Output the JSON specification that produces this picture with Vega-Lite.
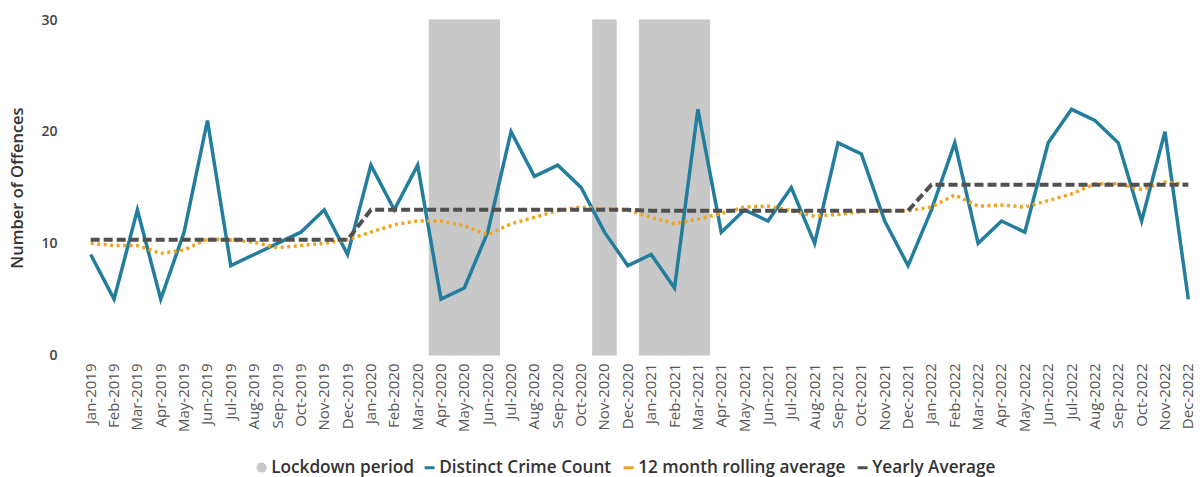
{
  "$schema": "https://vega.github.io/schema/vega-lite/v6.json",
  "width": 1121,
  "height": 335,
  "autosize": {"type": "none"},
  "padding": {"left": 79, "top": 20, "right": 2, "bottom": 122},
  "background": "white",
  "config": {
    "view": {"stroke": null},
    "font": "Open Sans"
  },
  "data": {
    "values": [
      {"month": "Jan-2019", "crimes": 9, "rolling": 10.0, "yearly": 10.33, "lockdown": false},
      {"month": "Feb-2019", "crimes": 5, "rolling": 9.8, "yearly": 10.33, "lockdown": false},
      {"month": "Mar-2019", "crimes": 13, "rolling": 9.8, "yearly": 10.33, "lockdown": false},
      {"month": "Apr-2019", "crimes": 5, "rolling": 9.1, "yearly": 10.33, "lockdown": false},
      {"month": "May-2019", "crimes": 11, "rolling": 9.4, "yearly": 10.33, "lockdown": false},
      {"month": "Jun-2019", "crimes": 21, "rolling": 10.4, "yearly": 10.33, "lockdown": false},
      {"month": "Jul-2019", "crimes": 8, "rolling": 10.3, "yearly": 10.33, "lockdown": false},
      {"month": "Aug-2019", "crimes": 9, "rolling": 10.1, "yearly": 10.33, "lockdown": false},
      {"month": "Sep-2019", "crimes": 10, "rolling": 9.6, "yearly": 10.33, "lockdown": false},
      {"month": "Oct-2019", "crimes": 11, "rolling": 9.8, "yearly": 10.33, "lockdown": false},
      {"month": "Nov-2019", "crimes": 13, "rolling": 10.0, "yearly": 10.33, "lockdown": false},
      {"month": "Dec-2019", "crimes": 9, "rolling": 10.33, "yearly": 10.33, "lockdown": false},
      {"month": "Jan-2020", "crimes": 17, "rolling": 11.0, "yearly": 13.0, "lockdown": false},
      {"month": "Feb-2020", "crimes": 13, "rolling": 11.67, "yearly": 13.0, "lockdown": false},
      {"month": "Mar-2020", "crimes": 17, "rolling": 12.0, "yearly": 13.0, "lockdown": false},
      {"month": "Apr-2020", "crimes": 5, "rolling": 12.0, "yearly": 13.0, "lockdown": true},
      {"month": "May-2020", "crimes": 6, "rolling": 11.58, "yearly": 13.0, "lockdown": true},
      {"month": "Jun-2020", "crimes": 11, "rolling": 10.75, "yearly": 13.0, "lockdown": true},
      {"month": "Jul-2020", "crimes": 20, "rolling": 11.75, "yearly": 13.0, "lockdown": false},
      {"month": "Aug-2020", "crimes": 16, "rolling": 12.33, "yearly": 13.0, "lockdown": false},
      {"month": "Sep-2020", "crimes": 17, "rolling": 12.92, "yearly": 13.0, "lockdown": false},
      {"month": "Oct-2020", "crimes": 15, "rolling": 13.25, "yearly": 13.0, "lockdown": false},
      {"month": "Nov-2020", "crimes": 11, "rolling": 13.08, "yearly": 13.0, "lockdown": true},
      {"month": "Dec-2020", "crimes": 8, "rolling": 13.0, "yearly": 13.0, "lockdown": false},
      {"month": "Jan-2021", "crimes": 9, "rolling": 12.33, "yearly": 12.92, "lockdown": true},
      {"month": "Feb-2021", "crimes": 6, "rolling": 11.75, "yearly": 12.92, "lockdown": true},
      {"month": "Mar-2021", "crimes": 22, "rolling": 12.17, "yearly": 12.92, "lockdown": true},
      {"month": "Apr-2021", "crimes": 11, "rolling": 12.67, "yearly": 12.92, "lockdown": false},
      {"month": "May-2021", "crimes": 13, "rolling": 13.25, "yearly": 12.92, "lockdown": false},
      {"month": "Jun-2021", "crimes": 12, "rolling": 13.33, "yearly": 12.92, "lockdown": false},
      {"month": "Jul-2021", "crimes": 15, "rolling": 12.92, "yearly": 12.92, "lockdown": false},
      {"month": "Aug-2021", "crimes": 10, "rolling": 12.42, "yearly": 12.92, "lockdown": false},
      {"month": "Sep-2021", "crimes": 19, "rolling": 12.58, "yearly": 12.92, "lockdown": false},
      {"month": "Oct-2021", "crimes": 18, "rolling": 12.83, "yearly": 12.92, "lockdown": false},
      {"month": "Nov-2021", "crimes": 12, "rolling": 12.92, "yearly": 12.92, "lockdown": false},
      {"month": "Dec-2021", "crimes": 8, "rolling": 12.92, "yearly": 12.92, "lockdown": false},
      {"month": "Jan-2022", "crimes": 13, "rolling": 13.25, "yearly": 15.25, "lockdown": false},
      {"month": "Feb-2022", "crimes": 19, "rolling": 14.33, "yearly": 15.25, "lockdown": false},
      {"month": "Mar-2022", "crimes": 10, "rolling": 13.33, "yearly": 15.25, "lockdown": false},
      {"month": "Apr-2022", "crimes": 12, "rolling": 13.42, "yearly": 15.25, "lockdown": false},
      {"month": "May-2022", "crimes": 11, "rolling": 13.25, "yearly": 15.25, "lockdown": false},
      {"month": "Jun-2022", "crimes": 19, "rolling": 13.83, "yearly": 15.25, "lockdown": false},
      {"month": "Jul-2022", "crimes": 22, "rolling": 14.42, "yearly": 15.25, "lockdown": false},
      {"month": "Aug-2022", "crimes": 21, "rolling": 15.33, "yearly": 15.25, "lockdown": false},
      {"month": "Sep-2022", "crimes": 19, "rolling": 15.33, "yearly": 15.25, "lockdown": false},
      {"month": "Oct-2022", "crimes": 12, "rolling": 14.83, "yearly": 15.25, "lockdown": false},
      {"month": "Nov-2022", "crimes": 20, "rolling": 15.5, "yearly": 15.25, "lockdown": false},
      {"month": "Dec-2022", "crimes": 5, "rolling": 15.25, "yearly": 15.25, "lockdown": false}
    ]
  },
  "encoding": {
    "x": {
      "field": "month",
      "type": "ordinal",
      "scale": {
        "type": "band",
        "paddingInner": 0,
        "paddingOuter": 0,
        "domain": ["Jan-2019","Feb-2019","Mar-2019","Apr-2019","May-2019","Jun-2019","Jul-2019","Aug-2019","Sep-2019","Oct-2019","Nov-2019","Dec-2019",
                   "Jan-2020","Feb-2020","Mar-2020","Apr-2020","May-2020","Jun-2020","Jul-2020","Aug-2020","Sep-2020","Oct-2020","Nov-2020","Dec-2020",
                   "Jan-2021","Feb-2021","Mar-2021","Apr-2021","May-2021","Jun-2021","Jul-2021","Aug-2021","Sep-2021","Oct-2021","Nov-2021","Dec-2021",
                   "Jan-2022","Feb-2022","Mar-2022","Apr-2022","May-2022","Jun-2022","Jul-2022","Aug-2022","Sep-2022","Oct-2022","Nov-2022","Dec-2022"]
      },
      "axis": {
        "title": null,
        "labelAngle": -90,
        "labelFontSize": 15,
        "labelColor": "#555555",
        "labelPadding": 8,
        "ticks": false,
        "domain": false,
        "grid": false
      }
    }
  },
  "layer": [
    {
      "transform": [{"filter": "datum.lockdown"}],
      "mark": {"type": "bar", "stroke": "#C8C8C8", "strokeWidth": 1.2},
      "encoding": {
        "y": {
          "datum": 30,
          "type": "quantitative",
          "scale": {"domain": [0, 30], "nice": false},
          "axis": {
            "title": "Number of Offences",
            "titleFontSize": 16.5,
            "titleFontWeight": 600,
            "titleColor": "#333333",
            "titlePadding": 15,
            "values": [0, 10, 20, 30],
            "labelFontSize": 14,
            "labelFontWeight": 600,
            "labelColor": "#444444",
            "labelPadding": 22,
            "ticks": false,
            "domain": false,
            "grid": false
          }
        },
        "fill": {
          "datum": "Lockdown period",
          "type": "nominal",
          "scale": {"domain": ["Lockdown period"], "range": ["#C8C8C8"]},
          "legend": {
            "title": null,
            "orient": "none",
            "legendX": 174,
            "legendY": 439,
            "direction": "horizontal",
            "labelFontSize": 17.2,
            "labelFontWeight": 600,
            "labelColor": "#333333",
            "symbolType": "circle",
            "symbolSize": 100,
            "symbolStrokeWidth": 0,
            "labelOffset": 1,
            "labelLimit": 400
          }
        }
      }
    },
    {
      "mark": {"type": "line", "strokeWidth": 3.5, "strokeJoin": "miter"},
      "encoding": {
        "y": {"field": "crimes", "type": "quantitative"},
        "stroke": {
          "datum": "Distinct Crime Count",
          "type": "nominal",
          "scale": {
            "domain": ["Distinct Crime Count", "12 month rolling average", "Yearly Average"],
            "range": ["#237E9E", "#F2A31E", "#505050"]
          },
          "legend": {
            "title": null,
            "orient": "none",
            "legendX": 342,
            "legendY": 439,
            "direction": "horizontal",
            "labelFontSize": 17.2,
            "labelFontWeight": 600,
            "labelColor": "#333333",
            "symbolType": "stroke",
            "symbolSize": 100,
            "symbolStrokeWidth": 3,
            "symbolDash": [1, 0],
            "columnPadding": 5,
            "labelOffset": 1,
            "labelLimit": 400
          }
        }
      }
    },
    {
      "mark": {"type": "line", "strokeWidth": 3.5, "strokeDash": [3, 3.5]},
      "encoding": {
        "y": {"field": "rolling", "type": "quantitative"},
        "stroke": {"datum": "12 month rolling average"}
      }
    },
    {
      "mark": {"type": "line", "strokeWidth": 4, "strokeDash": [9, 4]},
      "encoding": {
        "y": {"field": "yearly", "type": "quantitative"},
        "stroke": {"datum": "Yearly Average"}
      }
    }
  ],
  "resolve": {"scale": {"y": "shared"}}
}
